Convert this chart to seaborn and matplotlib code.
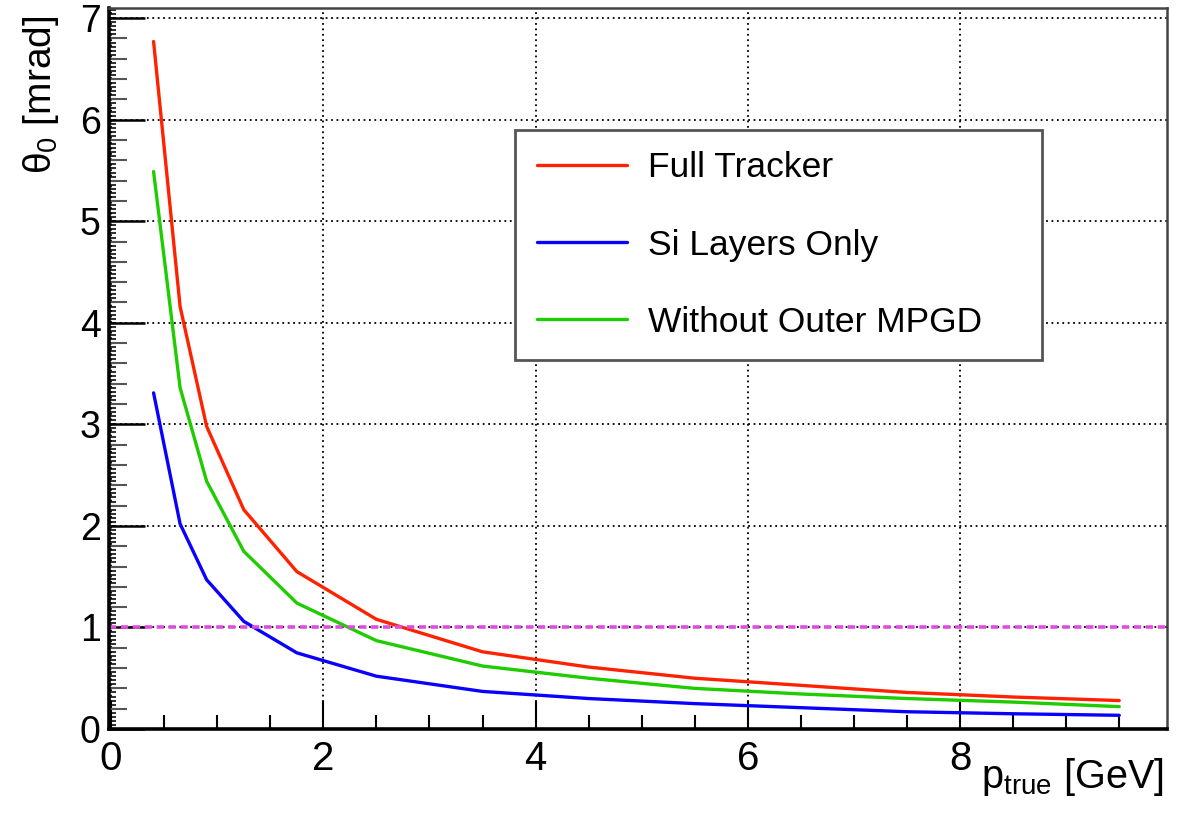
import numpy as np
import pandas as pd
import matplotlib
matplotlib.use("Agg")
import matplotlib.pyplot as plt
import seaborn as sns
from matplotlib.ticker import MultipleLocator, FixedLocator, NullLocator

# ---- data ----
p_true = [0.4, 0.65, 0.9, 1.25, 1.75, 2.5, 3.5, 4.5, 5.5, 6.5, 7.5, 8.5, 9.5]
full_tracker = [6.77, 4.16, 2.98, 2.16, 1.55, 1.08, 0.76, 0.61, 0.50, 0.43, 0.36, 0.315, 0.28]
si_layers = [3.31, 2.02, 1.47, 1.06, 0.75, 0.52, 0.37, 0.30, 0.25, 0.21, 0.17, 0.15, 0.135]
no_outer_mpgd = [5.49, 3.36, 2.44, 1.75, 1.24, 0.87, 0.62, 0.50, 0.40, 0.345, 0.30, 0.265, 0.22]
series_labels = ["Full Tracker", "Si Layers Only", "Without Outer MPGD"]
x_ticks = [0, 2, 4, 6, 8]
threshold = 1.0

colors = {"Full Tracker": "#ff2200", "Si Layers Only": "#0a00ff", "Without Outer MPGD": "#1ecc00"}

df = pd.DataFrame({
    "p": p_true * 3,
    "theta": full_tracker + si_layers + no_outer_mpgd,
    "series": [series_labels[0]] * len(p_true) + [series_labels[1]] * len(p_true)
              + [series_labels[2]] * len(p_true),
})

sns.set_theme(style="white")
plt.rcParams["font.family"] = ["Liberation Sans", "DejaVu Sans"]
plt.rcParams["mathtext.fontset"] = "custom"
plt.rcParams["mathtext.rm"] = "Liberation Sans"
plt.rcParams["mathtext.it"] = "Liberation Sans"
plt.rcParams["mathtext.default"] = "regular"
plt.rcParams["text.color"] = "black"
plt.rcParams["axes.labelcolor"] = "black"
plt.rcParams["xtick.color"] = "black"
plt.rcParams["ytick.color"] = "black"

W, H = 1184, 815
fig = plt.figure(figsize=(W / 100, H / 100), dpi=100)
ax = fig.add_axes([109 / W, 1 - 729 / H, (1167 - 109) / W, (729 - 8) / H])

sns.lineplot(data=df, x="p", y="theta", hue="series", hue_order=series_labels,
             palette=colors, linewidth=2.4, sort=False, estimator=None, ax=ax)

ax.axhline(threshold, color="#e04ce0", linestyle=(0, (2.0, 1.3)), linewidth=2.6, zorder=2)

ax.set_xlim(-0.02, 9.95)
ax.set_ylim(0, 7.1)
ax.xaxis.set_major_locator(FixedLocator(x_ticks))
ax.xaxis.set_minor_locator(MultipleLocator(0.5))
ax.yaxis.set_major_locator(FixedLocator([0, 1, 2, 3, 4, 5, 6, 7]))
ax.yaxis.set_minor_locator(MultipleLocator(0.2))
ax.grid(which="major", color="black", linestyle=(0, (1, 2)), linewidth=1.3)

ax.tick_params(axis="both", which="both", direction="in", top=False, right=False,
               bottom=True, left=True)
ax.tick_params(axis="x", which="major", length=20, width=1.5, labelsize=29, pad=8)
ax.tick_params(axis="x", which="minor", length=10, width=1.5)
ax.tick_params(axis="y", which="major", length=26, width=1.8, labelsize=27, pad=6)
ax.tick_params(axis="y", which="minor", length=13, width=1.5, color="#555555")

# fine secondary ticks along the left axis
sec = ax.secondary_yaxis("left")
sec.yaxis.set_major_locator(MultipleLocator(0.04))
sec.yaxis.set_minor_locator(NullLocator())
sec.tick_params(direction="in", length=5, width=1.5, labelleft=False, color="#333333")
sec.spines["left"].set_visible(False)

for s in ["left", "bottom"]:
    ax.spines[s].set_color("black")
    ax.spines[s].set_linewidth(2.6)
for s in ["top", "right"]:
    ax.spines[s].set_color("#444444")
    ax.spines[s].set_linewidth(1.8)

ax.set_ylabel(r"$\theta_0$ [mrad]", loc="top", fontsize=28)
ax.yaxis.set_label_coords(-0.045, 0.99)
ax.set_xlabel(r"$p_{true}$ [GeV]", loc="right", fontsize=28.5)
ax.xaxis.set_label_coords(0.997, -0.038)

handles, labels = ax.get_legend_handles_labels()
leg = ax.legend(handles, labels, loc="upper left",
                bbox_to_anchor=(0.384, 0.0, 0.498, (729 - 130) / 721),
                mode="expand", borderaxespad=0, fontsize=25.5, frameon=True, fancybox=False,
                framealpha=1, edgecolor="#555555", handlelength=2.55, handletextpad=0.6,
                labelspacing=1.25, borderpad=0.6)
leg.get_frame().set_linewidth(2.0)
for h in leg.get_lines():
    h.set_linewidth(2.4)

fig.savefig("out.png", dpi=100)
